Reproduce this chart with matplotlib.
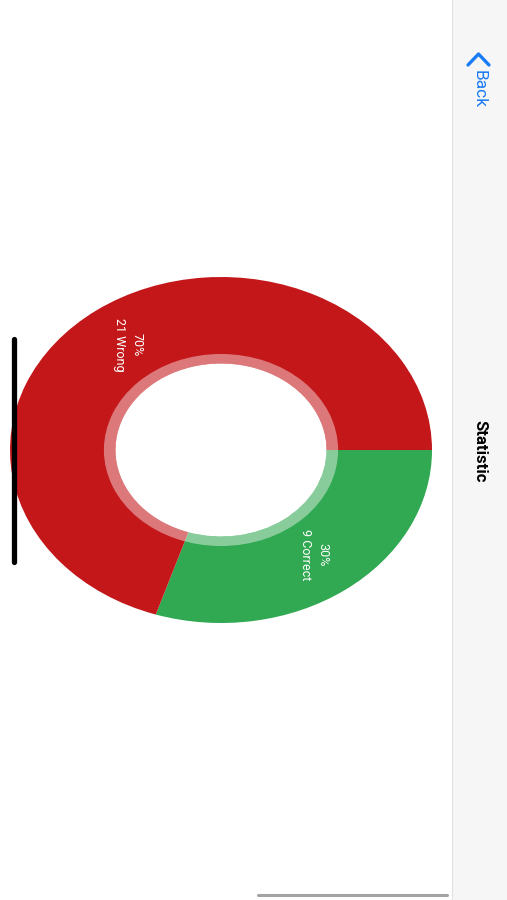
import matplotlib.pyplot as plt
from matplotlib.patches import Rectangle

# --- data ---
categories = ['Correct', 'Wrong']
answers = [9, 21]
colors = ['#31A852', '#C3171A']

total = sum(answers)
labels = [f"{round(100 * n / total)}%\n{n} {c}" for n, c in zip(answers, categories)]

plt.rcParams['font.family'] = ['Roboto', 'DejaVu Sans']

W, H = 507, 900
fig = plt.figure(figsize=(W / 100, H / 100), dpi=100)
fig.patch.set_facecolor('white')

# donut (screen is rotated, so the circle shows as an ellipse)
ax = fig.add_axes([10 / W, (H - 623) / H, 422 / W, 346 / H])
wedges, texts = ax.pie(answers, colors=colors, labels=labels, startangle=0,
                       counterclock=False, labeldistance=0.75,
                       wedgeprops=dict(width=0.5, linewidth=0),
                       textprops=dict(color='white', fontsize=9, linespacing=1.45))
for t in texts:
    t.set_rotation(-90)
    t.set_ha('center')
    t.set_va('center')
    t.set_multialignment('center')
    t.set_rotation_mode('anchor')
# translucent ring around the hole
ax.pie([1], colors=['white'], radius=0.555, startangle=0,
       wedgeprops=dict(width=0.055, linewidth=0, alpha=0.42))
ax.set_aspect('auto')
ax.set_xlim(-1, 1)
ax.set_ylim(-1, 1)
ax.axis('off')

# overlay in pixel coords: nav bar, indicators
ov = fig.add_axes([0, 0, 1, 1], zorder=5)
ov.set_xlim(0, W)
ov.set_ylim(H, 0)
ov.patch.set_alpha(0)
ov.axis('off')

ov.add_patch(Rectangle((452, 0), W - 452, H, facecolor='#F7F6F7', edgecolor='none'))
ov.plot([452, 452], [0, H], color='#E2E2E2', lw=0.8)

ov.plot([468, 478.5, 489], [65, 54, 65], color='#1A7CF5', lw=2.4,
        solid_capstyle='round', solid_joinstyle='round')
ov.text(479, 89, 'Back', rotation=-90, ha='center', va='center',
        color='#1A7CF5', fontsize=12.5, rotation_mode='anchor')
ov.text(480, 451, 'Statistic', rotation=-90, ha='center', va='center',
        color='black', fontsize=12, fontweight='bold', rotation_mode='anchor')

ov.plot([13.5, 13.5], [339, 562], color='black', lw=3.8, solid_capstyle='round')
ov.plot([258, 447], [895, 895], color='#A3A3A3', lw=2.2, solid_capstyle='round')

fig.savefig('out.png', dpi=100)
